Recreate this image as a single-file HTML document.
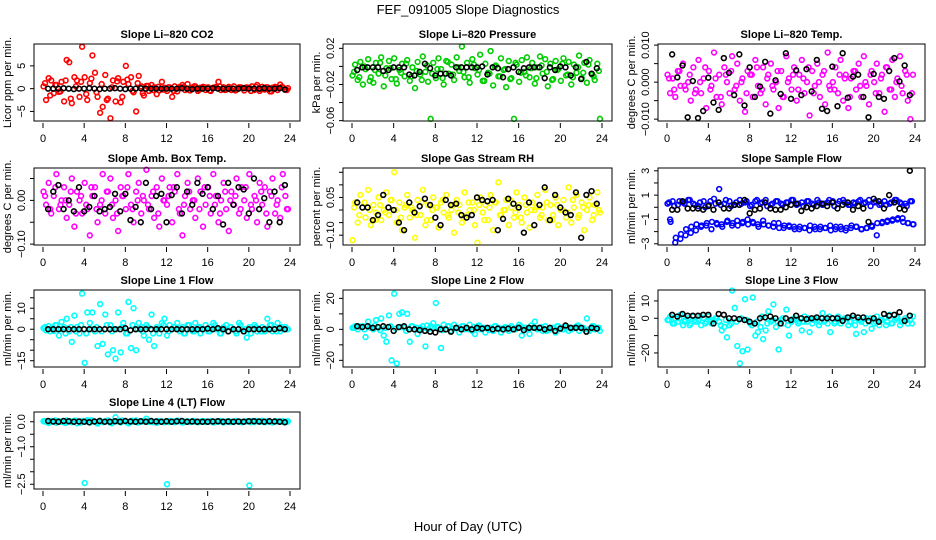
<!DOCTYPE html>
<html><head><meta charset="utf-8"><style>
html,body{margin:0;padding:0;background:#fff;}
svg{display:block;font-family:"Liberation Sans",sans-serif;}
</style></head><body>
<svg id="chart" width="936" height="540" viewBox="0 0 936 540" xmlns="http://www.w3.org/2000/svg">
<rect x="0" y="0" width="936" height="540" fill="#fff"/>
<text x="468" y="14" text-anchor="middle" font-size="13">FEF_091005  Slope Diagnostics</text>
<text x="468" y="531" text-anchor="middle" font-size="13">Hour of Day (UTC)</text>
</svg>
<script>
// x tick labels
const xTicks = [0,4,8,12,16,20,24];
// colored series (one value per 15-min slot)
const co2Values = [0.5,-2.5,2.3,1.8,-1,0.8,-0.7,1.5,-2.8,6.3,5.8,-3.2,2.5,1.8,-1.8,9.2,2.5,-2.5,1.2,7.3,3.5,-1.8,-5.3,-4,3,-2.2,-6.5,1.8,-2.8,2.3,-3,1.5,5,1,2.5,-0.8,-5,2.8,0.5,-1.5,0.6,-0.5,0.8,0.3,-1.2,-0.4,1.5,0.2,-0.5,0.3,-1.8,0.5,-0.6,0.4,0.8,-0.3,1,-0.4,0.3,0.5,-0.5,0.2,0.4,-0.3,0.3,-0.5,0.2,0.4,1.5,-0.3,0.3,-0.2,0.4,-0.3,0.5,-0.2,0.3,0.2,-0.4,0.3,0.2,0.5,-0.3,0.8,-0.5,0.4,-0.2,0.3,-0.6,0.2,0.4,-0.3,0.9,0.3,-0.2,0.1];
const co2Extra = [1.2,-1.5,0.8,-0.6,1.8,-2.2,0.5,1.5,-1.2,2.2,-0.8,1.0,-2.5,0.3,1.6,-1.8,2.0,-0.5,1.2,-1.0,0.6,-0.3,0.4,-0.2,0.3,-0.5,0.2,0.4,-0.3,0.5,-0.2,0.3,-0.4,0.2,0.5,-0.3,0.1,-0.4,0.3,0.2,-0.5,0.4,-0.1,0.3,-0.6,0.2,0.4,-0.3];
const co2Black = [0,0,0,0.1,0,-0.1,0,0,0.1,0,-0.1,0,0,0.1,0,-0.1,0,0,0.1,0,0,0,0,0,0,0,0.1,0,-0.1,0,0,0,0.1,0,0,0,0,0,0.1,0,0,0,0.1,0,0,0.1,-0.2];
const pressValues = [-0.01,0.002,-0.015,0.005,-0.02,-0.003,0.008,-0.012,-0.018,0.004,-0.008,0.01,-0.022,-0.002,0.006,-0.014,0.009,-0.019,-0.004,0.003,-0.011,0.007,-0.016,-0.001,-0.024,0.005,-0.009,0.011,-0.006,-0.017,-0.058,0.004,-0.013,0.009,-0.003,-0.02,0.006,-0.008,0.002,-0.015,0.01,-0.005,0.022,-0.012,0.004,-0.018,0.008,-0.002,-0.009,0.013,-0.016,0.003,-0.007,0.017,-0.021,0.001,-0.011,0.009,-0.004,-0.023,0.006,-0.013,-0.058,0.002,-0.017,0.007,-0.006,0.01,-0.012,0.004,-0.019,-0.001,0.011,-0.008,0.008,-0.022,0.003,-0.014,0.006,-0.003,-0.016,0.009,-0.01,0.005,-0.02,0.002,-0.007,0.012,-0.013,0.004,-0.018,0.007,-0.009,-0.015,0.003,-0.058];
const pressExtra = [-0.006,-0.012,0,-0.016,-0.004,0.004,-0.01,-0.002,-0.014,-0.007,0.003,-0.011,-0.005,-0.015,0.001,-0.008,-0.003,-0.013,0.005,-0.009,-0.001,-0.006,-0.012,0.002,-0.004,-0.016,-0.008,0,-0.011,-0.003,-0.014,0.004,-0.007,-0.01,-0.002,-0.013,0.001,-0.006,-0.015,-0.004,0.003,-0.009,-0.012,-0.001,-0.007,0.002,-0.011,-0.005];
const pressBlack = [-0.004,-0.001,-0.001,-0.001,-0.001,-0.005,-0.004,-0.001,-0.001,-0.001,-0.009,-0.01,-0.006,0.003,-0.002,-0.01,-0.008,-0.008,-0.01,-0.001,-0.001,-0.001,-0.001,-0.001,0,-0.009,-0.001,-0.002,-0.012,-0.003,-0.001,-0.006,-0.002,-0.001,-0.001,-0.001,-0.013,-0.001,-0.004,0,-0.001,-0.01,-0.001,-0.014,0.005,-0.008,-0.002];
const liTempValues = [0.002,-0.003,0.001,-0.004,0.003,-0.001,0.005,-0.002,0,-0.005,0.004,-0.002,0.006,-0.003,0.001,-0.007,0.003,-0.001,0.008,-0.004,0.002,-0.006,0.004,0,-0.003,0.007,-0.002,0.005,-0.005,0.001,-0.008,0.003,0.002,-0.004,0.006,-0.001,-0.003,0.004,-0.006,0.002,0.005,-0.002,0,-0.007,0.003,-0.004,0.007,0.001,-0.002,0.004,-0.005,0.002,0.006,-0.003,0,-0.009,0.003,-0.001,0.005,-0.004,0.002,-0.006,0.008,-0.002,0,0.004,-0.003,0.006,-0.005,0.002,-0.007,0.001,0.003,-0.002,0.005,-0.004,0.007,-0.001,-0.006,0.003,0,0.005,-0.003,0.002,-0.008,0.004,-0.002,0.006,-0.004,0.001,0.007,-0.003,0.003,-0.005,-0.01,0.002];
const liTempExtra = [0.001,-0.002,0.003,-0.001,0.002,-0.003,0,0.004,-0.002,0.001,-0.004,0.002,0.003,-0.001,0,-0.003,0.002,0.004,-0.002,0.001,-0.001,0.003,-0.004,0,0.002,-0.002,0.001,0.004,-0.003,0,0.003,-0.001,-0.002,0.002,0.001,-0.004,0.003,-0.001,0,0.002,-0.003,0.001,0.004,-0.002,0,-0.001,0.002,-0.003];
const liTempBlack = [0.0075,0.0013,0.0045,-0.0095,0.0003,-0.0097,-0.0078,0.0012,-0.0055,-0.0075,0.0065,0.0025,-0.0035,0.0075,-0.0063,0.004,-0.004,-0.0012,0.0055,-0.0085,0.0005,-0.0032,0.0078,-0.0045,0.0032,-0.0035,0.0035,-0.0025,0.006,-0.0072,-0.0078,0.0042,-0.0065,0.0078,-0.0042,0.0015,0.002,-0.004,-0.0095,0.0022,-0.004,-0.0045,0.003,0.0065,0.0002,0.0045,-0.0035];
const ambValues = [0.02,-0.01,0.04,-0.03,0.01,0.06,-0.02,0,0.03,-0.04,-0.01,0.05,-0.06,0.02,0,-0.03,0.04,-0.02,-0.08,0.01,0.03,-0.05,-0.01,0.06,-0.03,0.02,0.05,-0.04,0,-0.07,0.03,0.01,-0.02,0.06,-0.01,-0.05,0.02,0.04,-0.03,0,0.07,-0.02,0.01,-0.04,0.03,-0.06,0.05,0,-0.01,0.03,-0.05,0.02,0.06,-0.03,-0.08,0.01,0.04,-0.02,0,-0.04,0.05,0.02,-0.06,-0.01,0.03,-0.03,0.06,0.01,-0.05,0,0.04,-0.02,-0.07,0.02,-0.01,0.05,-0.03,0.03,0,-0.04,0.06,-0.02,0.01,-0.05,0.04,-0.01,0.03,-0.06,0.02,0.05,-0.03,0,-0.04,0.06,0.01,-0.02];
const ambExtra = [0.01,-0.02,0.03,-0.01,0,0.02,-0.03,0.01,-0.01,0.03,-0.02,0,0.02,-0.01,-0.03,0.01,0.03,-0.02,0,0.01,-0.01,0.02,-0.03,0,0.01,0.03,-0.02,-0.01,0.02,0,-0.02,0.03,0.01,-0.01,-0.03,0.02,0,0.01,-0.02,0.03,-0.01,0,0.02,-0.03,0.01,-0.01,0.03,-0.02];
const ambBlack = [-0.02,0.02,0.035,-0.02,0,-0.025,0.03,-0.025,-0.015,0.01,-0.025,-0.02,-0.015,0.015,-0.025,0.015,-0.045,-0.015,-0.05,0.04,-0.02,0.01,0.015,-0.05,0.012,0.03,-0.03,0.02,-0.01,0.04,0.015,0.03,-0.02,0.01,-0.055,0.04,-0.01,0.03,0.025,-0.03,0.05,-0.02,0.005,-0.05,0.02,-0.05,0.035];
const rhValues = [-0.12,0.03,-0.05,0.06,0.01,-0.03,0.08,-0.06,0.02,-0.01,0.05,-0.04,0,0.07,-0.02,0.04,0.15,-0.05,0.03,-0.08,0.01,0.06,-0.03,0,-0.11,0.04,-0.02,0.08,-0.06,0.02,-0.04,0.05,0.01,-0.07,0.03,-0.01,0.06,-0.03,0,-0.09,0.04,0.02,-0.05,0.07,-0.02,0,0.03,-0.06,-0.13,0.05,-0.01,0.02,-0.04,0.06,-0.08,0.03,0.11,-0.02,0,0.04,-0.06,0.01,-0.03,0.07,0.02,-0.05,0.05,-0.01,-0.07,0.03,0,0.06,-0.03,0.01,0.08,-0.04,0.02,-0.02,0.05,-0.06,0,0.04,-0.03,0.09,-0.05,0.01,0.06,-0.02,0.03,-0.08,0,0.05,-0.04,0.02,0.07,-0.01];
const rhExtra = [0.01,-0.02,0.03,0,-0.04,0.02,-0.01,0.04,0,-0.03,0.02,0.01,-0.02,0.03,-0.04,0,0.01,0.04,-0.02,0.02,-0.01,-0.03,0.03,0,0.02,-0.04,0.01,0.03,-0.02,0,0.04,-0.01,-0.03,0.02,0,0.01,-0.02,0.03,-0.04,0.02,0,-0.01,0.04,-0.03,0.01,0.02,-0.02,0];
const rhBlack = [0.03,0.01,0.01,-0.04,-0.02,0.06,0.01,0,-0.05,-0.08,0.03,-0.01,0.015,0.045,0.02,-0.03,-0.06,0.04,0.02,0.025,-0.02,-0.03,-0.02,0.05,0.04,0.035,0.04,-0.08,-0.035,0.045,0.025,0.01,-0.09,0.03,-0.06,0.02,0.09,-0.04,0.06,0.01,-0.01,-0.02,0.07,-0.11,0.06,0.075,0.025];
const flowValues = [0.3,-1.0,0.5,-2.9,0.2,-2.6,0.4,-2.3,0.6,-2.1,0.3,-1.9,0.1,-1.6,0.5,-1.5,0.2,-1.8,0.7,-1.3,1.5,-1.4,0.3,-1.2,0.5,-1.5,0.2,-1.1,0.6,-1.3,0.4,-1.0,0.1,-1.2,0.5,-1.4,0.3,-1.1,0.6,-1.5,0.2,-1.6,0.5,-1.3,0.3,-1.7,0.4,-1.5,0.6,-1.6,0.2,-1.8,0.4,-1.7,0.5,-1.9,0.3,-1.6,0.6,-1.8,0.2,-1.7,0.4,-1.5,0.5,-1.8,0.3,-1.6,0.6,-1.9,0.2,-1.7,0.4,-1.6,0.5,-1.8,0.3,-1.7,0.6,-1.5,0.4,-2.3,0.2,-1.3,0.5,-1.2,0.3,-1.1,0.6,-1.0,0.4,-0.9,0.3,-1.3,0.5,-1.4];
const flowExtra = [0.4,0.1,0.5,0.3,0.6,0.2,0.4,0.0,0.5,0.3,0.2,0.6,0.1,0.4,0.3,0.5,0.2,0.6,0.4,0.1,0.3,0.5,0.2,0.4,0.6,0.3,0.1,0.5,0.2,0.4,0.3,0.6,0.1,0.5,0.4,0.2,0.3,0.6,0.4,0.1,0.5,0.3,0.2,0.4,0.6,0.3,0.1,0.5];
const flowLowerExtra = [-1.2,-2.5,-2.2,-1.8,-1.6,-1.4,-1.5,-1.3,-1.2,-1.4,-1.6,-1.1,-1.3,-1.5,-1.2,-1.4,-1.3,-1.6,-1.4,-1.5,-1.3,-1.7,-1.5,-1.6,-1.8,-1.6,-1.7,-1.5,-1.8,-1.6,-1.7,-1.9,-1.6,-1.8,-1.7,-1.5,-1.6,-1.8,-1.7,-1.6,-1.3,-1.2,-1.1,-1.0,-0.9,-1.2,-1.3,-1.4];
const flowBlack = [-0.2,-0.2,0.5,-0.1,-0.1,-0.1,-0.2,0.1,-0.2,0.4,-0.1,-0.1,0.2,0.2,0.6,-0.5,-0.2,-0.1,0.4,-0.1,-0.2,-0.2,0,0.2,0.3,-0.3,0,-0.1,0.1,0.3,0.1,0.4,-0.1,0.2,0.4,-0.2,0.1,-0.1,-1.2,0.7,0.5,-0.1,1.0,0.4,-0.1,-0.2,3.0];
const line1Values = [0.5,-0.5,1.5,0.3,-0.8,2,-3,3.5,1,5,-1,-6,6.5,1,-2,17,-16,8,3,8,-1,-8,12,-7,7,-12,2,-10,-14,8,-11,3,-2,13,-9,10,-10,3,1,-3,2,-5,7,-8,1,-2,3,5,-3,2,0,1,3,-1,1,-2,2,0,-1,3,1,-2,0,2,-1,1,3,0,0,-2,1,2,-1,1,0,-2,3,0,-1,-4,1,0,2,-1,0,1,-1,5,2,-1,0,3,-1,0,1,0];
const line1Extra = [1,-1,2,0,-2,1,-1,2,-2,0,1,-1,2,-1,0,1,-2,2,0,-1,1,-2,0,2,-1,1,0,-2,2,-1,1,0,-1,2,-2,0,1,-1,2,0,-2,1,-1,0,2,-1,1,0];
const line1Black = [0,0,0,0,0,0,0,0,0,0,0,0,0,0,0,0.5,-0.5,0,0,0,0,0,0,0,0,0,0,0,0,0,0,0.3,0,0.5,0,-1,0,0,-1,0,0,0,0,0,0,0.5,0];
const line2Values = [1,2,0,1.5,2,-5,5,1,0,6,1,7,-4,-8,9,-20,23,-22,10,11,1,10,-8,2,0,-3,1,2,-11,0,2,4,17,1,-12,3,0,2,-1,3,1,-2,2,0,1,3,-1,-3,2,0,1,-2,0,1,-1,2,1,-2,0,1,-1,2,0,1,3,-4,1,0,-3,1,5,0,1,-1,2,0,0,1,-2,2,1,0,2,-1,0,1,2,-1,1,0,7,-1,2,0,1,-1];
const line2Extra = [1,2,0,1.5,2.5,-0.5,1,2,0.5,1.5,-1,2,1,0,2.5,1,1.5,-0.5,2,0.5,1,2,0,1.5,2.5,1,-0.5,2,0.5,1.5,1,0,2,1,2.5,0.5,1.5,-1,1,2,0,1.5,0.5,2.5,1,0,2,1];
const line2Black = [2,1.5,2,1,1.5,2,1.5,-1,1.5,2,0,0,-0.5,-1,-1.5,-2,0,0,-1.5,1,0,1,0,1,0.5,1,0,0.5,0,0.5,0,1,-0.5,1,1,1,0,1,-1,0.5,2.5,1,1,1,-1.5,1,0.5];
const line3Values = [-1,1,-3,0,-2,2,-4,-1,0,-3,1,-2,-1,-4,0,-2,1,-3,-1,0,-2,-7,-5,-11,-4,16,6,-16,-26,-19,11,-18,-3,12,-10,-8,-5,-12,-7,4,-2,8,-5,-18,-1,-3,5,-10,-2,0,-1,-2,-7,1,-2,-8,-3,0,-1,-2,3,-1,-3,-8,0,-2,1,-3,-1,0,-4,-2,0,-9,-1,-2,-8,0,-2,-6,-3,1,-4,-1,0,-2,2,-3,-1,0,-4,-2,0,-3,-1,1];
const line3Extra = [-1,-3,0,-2,-4,-1,1,-3,-2,0,-4,-1,-3,-2,0,-1,-4,-2,1,-3,-1,-2,0,-4,-1,-3,-2,0,-1,-4,-2,1,-3,-1,0,-2,-4,-1,-3,0,-2,-1,-4,-3,0,-2,-1,-3];
const line3Black = [2,1,2.5,1.5,1.5,1.5,2,2,-3,2.5,2,0,0,-0.5,-1,-2,-3,0,0.5,1,0,-3,0,-1,1.5,0,-0.5,0,0.5,0,0,0,0,-1.5,0.5,1.5,0.5,0.5,-1.5,0,-2,2.5,1.5,2,3.5,-1.5,1.5];
const line4Values = [0.02,0,-0.05,0.03,0.01,-0.04,0.02,0,-0.03,0.05,0.01,-0.02,0.04,-0.06,0,0.03,-2.45,0.06,-0.03,0.02,0,-0.07,0.04,-0.02,0.01,0.05,-0.04,0,0.18,0.02,-0.03,0.04,0.01,-0.06,0.03,0,0.05,-0.02,0.01,0.04,0.12,-0.01,0.03,0,-0.04,0.02,0.01,-0.02,-2.5,0.03,0,-0.02,0.04,0.01,-0.03,0,0.02,-0.01,0.03,0,-0.02,0.01,0.02,-0.01,0,0.03,-0.02,0.01,0,0.02,-0.03,0.01,0.02,0,-0.01,0.03,0,-0.02,0.01,0.02,-2.55,0.03,-0.01,0.02,0,0.04,-0.02,0.01,0,-0.03,0.02,0.01,0,0.03,-0.01,0.02];
const line4Extra = [0.03,-0.02,0.05,0,-0.05,0.02,0.04,-0.03,0.01,0.06,-0.04,0,0.03,-0.06,0.02,0.05,-0.01,0.04,-0.03,0.01,0.02,-0.02,0.03,0,-0.01,0.02,0.04,-0.02,0,0.03,-0.01,0.02,0.01,-0.02,0.03,0,-0.01,0.02,0,0.01,-0.02,0.03,0,0.01,-0.01,0.02,0,-0.01];
const line4Black = [0.03,0.01,0,0.03,0.02,0,0.01,0,-0.02,0.01,0.03,0,0,0.02,0,0.03,0.01,0,0.02,0,0.03,0.01,0,0.02,0,0.02,0.03,0,0.01,0,0,0,0.01,0.02,0,0.01,0,0.01,0,0.02,0.02,0.01,0,0.02,0.01,0,-0.02];

const svg = document.getElementById('chart');
const NS = 'http://www.w3.org/2000/svg';
const colLeft = [34, 343, 658];
const colWidth = [266, 269, 267];
const rowTop = [44, 168, 290, 412];
const boxH = 77;

const panels = [
 {name:'co2', title:'Slope Li\u2013820 CO2', ylab:'Licor ppm per min.', c:0, r:0, col:'#ff0000', vals:co2Values, extra:[co2Extra], blk:co2Black, ymin:-7.1, ymax:9.8, ticks:[-5,0,5], labels:['\u22125','0','5']},
 {name:'pressure', title:'Slope Li\u2013820 Pressure', ylab:'kPa per min.', c:1, r:0, col:'#00cc00', vals:pressValues, extra:[pressExtra], blk:pressBlack, ymin:-0.0604, ymax:0.0248, ticks:[-0.06,-0.04,-0.02,0,0.02], labels:['\u22120.06','','\u22120.02','','0.02']},
 {name:'li-temp', title:'Slope Li\u2013820 Temp.', ylab:'degrees C per min.', c:2, r:0, col:'#ff00ff', vals:liTempValues, extra:[liTempExtra], blk:liTempBlack, ymin:-0.0105, ymax:0.0103, ticks:[-0.01,-0.005,0,0.005,0.01], labels:['\u22120.010','','0.000','','0.010']},
 {name:'amb-temp', title:'Slope Amb. Box Temp.', ylab:'degrees C per min.', c:0, r:1, col:'#ff00ff', vals:ambValues, extra:[ambExtra], blk:ambBlack, ymin:-0.102, ymax:0.074, ticks:[-0.1,-0.05,0,0.05], labels:['\u22120.10','','0.00','']},
 {name:'rh', title:'Slope Gas Stream RH', ylab:'percent per min.', c:1, r:1, col:'#ffff00', vals:rhValues, extra:[rhExtra], blk:rhBlack, ymin:-0.139, ymax:0.167, ticks:[-0.1,-0.05,0,0.05,0.1,0.15], labels:['\u22120.10','','','0.05','','']},
 {name:'sample-flow', title:'Slope Sample Flow', ylab:'ml/min per min.', c:2, r:1, col:'#0000ff', vals:flowValues, extra:[flowExtra, flowLowerExtra], blk:flowBlack, ymin:-3.1, ymax:3.23, ticks:[-3,-2,-1,0,1,2,3], labels:['\u22123','','\u22121','','1','','3']},
 {name:'line1', title:'Slope Line 1 Flow', ylab:'ml/min per min.', c:0, r:2, col:'#00ffff', vals:line1Values, extra:[line1Extra], blk:line1Black, ymin:-18, ymax:18.7, ticks:[-15,-10,-5,0,5,10,15], labels:['\u221215','','','0','','10','']},
 {name:'line2', title:'Slope Line 2 Flow', ylab:'ml/min per min.', c:1, r:2, col:'#00ffff', vals:line2Values, extra:[line2Extra], blk:line2Black, ymin:-24.3, ymax:25.4, ticks:[-20,-10,0,10,20], labels:['\u221220','','0','','20']},
 {name:'line3', title:'Slope Line 3 Flow', ylab:'ml/min per min.', c:2, r:2, col:'#00ffff', vals:line3Values, extra:[line3Extra], blk:line3Black, ymin:-28.1, ymax:16.3, ticks:[-20,-10,0,10], labels:['\u221220','','0','10']},
 {name:'line4', title:'Slope Line 4 (LT) Flow', ylab:'ml/min per min.', c:0, r:3, col:'#00ffff', vals:line4Values, extra:[line4Extra], blk:line4Black, ymin:-2.69, ymax:0.39, ticks:[-2.5,-2,-1.5,-1,-0.5,0], labels:['\u22122.5','','','\u22121.0','','0.0']}
];

function mk(tag, attrs, parent){
  const e = document.createElementNS(NS, tag);
  for (const k in attrs) e.setAttribute(k, attrs[k]);
  (parent||svg).appendChild(e);
  return e;
}

panels.forEach(p => {
  const L = colLeft[p.c], W = colWidth[p.c], T = rowTop[p.r], B = T + boxH;
  const x0 = L + 9, x1 = L + W - 10;
  const xs = h => x0 + (h/24)*(x1-x0);
  const ys = v => B - (v - p.ymin)/(p.ymax - p.ymin)*boxH;
  const g = mk('g', {});
  
  

  const t = mk('text', {x:L+W/2, y:T-6, 'text-anchor':'middle', 'font-size':'11', 'font-weight':'bold'}, g);
  t.textContent = p.title;
  
  

  const pts = mk('g', {fill:'none', stroke:p.col, 'stroke-width':'1.6'}, g);
  
  
  p.vals.forEach((v,i) => {
    const c = mk('circle', {cx:xs(i*0.25+0.05), cy:ys(v), r:'2.4'}, pts);
    
    
  });
  p.extra.forEach((arr,k) => {
    arr.forEach((v,i) => {
      const c = mk('circle', {cx:xs(i*0.5+0.2+k*0.15), cy:ys(v), r:'2.4'}, pts);
      
      
    });
  });
  const bp = mk('g', {fill:'none', stroke:'#000', 'stroke-width':'1.6'}, g);
  
  
  p.blk.forEach((v,i) => {
    const c = mk('circle', {cx:xs((i+1)*0.5), cy:ys(v), r:'2.4'}, bp);
    
    
  });

  const box = mk('rect', {x:L, y:T, width:W, height:boxH, fill:'none', stroke:'#000', 'stroke-width':'1'}, g);
  
  

  const xa = mk('g', {}, g);
  
  
  xTicks.forEach(h => {
    mk('line', {x1:xs(h), x2:xs(h), y1:B+2, y2:B+7, stroke:'#000'}, xa);
    const tl = mk('text', {x:xs(h), y:B+21, 'text-anchor':'middle', 'font-size':'11'}, xa);
    tl.textContent = h;
    
    
  });

  const ya = mk('g', {}, g);
  
  
  p.ticks.forEach((v,i) => {
    const y = ys(v);
    mk('line', {x1:L-4, x2:L, y1:y, y2:y, stroke:'#000'}, ya);
    if (p.labels[i]) {
      const tl = mk('text', {x:0, y:0, 'text-anchor':'middle', 'font-size':'11', transform:'translate('+(L-9)+','+y+') rotate(-90)'}, ya);
      tl.textContent = p.labels[i];
      
      
    }
  });
  const yt = mk('text', {x:0, y:0, 'text-anchor':'middle', 'font-size':'11', transform:'translate('+(L-23)+','+(T+boxH/2)+') rotate(-90)'}, g);
  yt.textContent = p.ylab;
  
  
});
</script>
</body></html>
